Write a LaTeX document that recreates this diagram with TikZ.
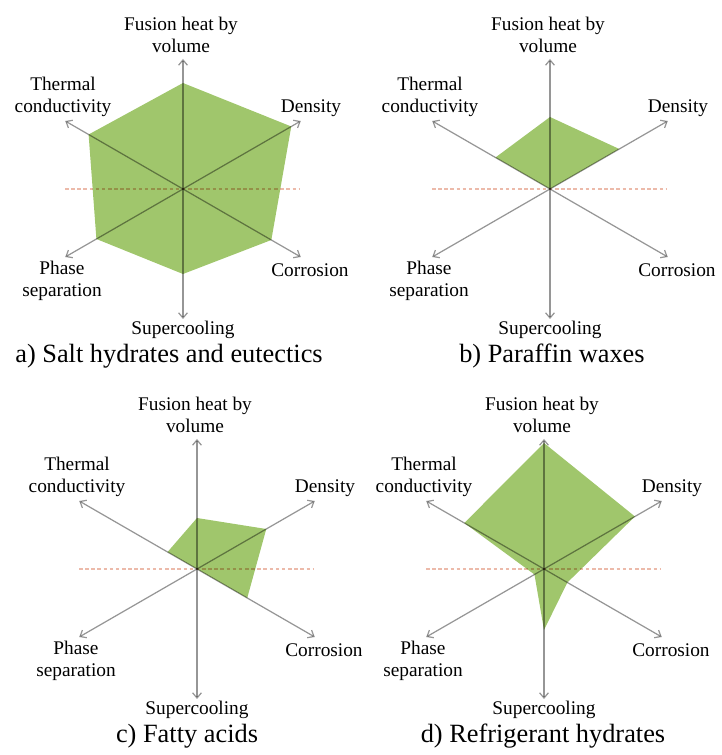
\documentclass[tikz,border=0pt]{standalone}
\usepackage{fontspec}
\newfontfamily\chartfont{Liberation Serif}
\usetikzlibrary{arrows.meta, positioning, calc}
\definecolor{radargreen}{RGB}{160,198,108}
\definecolor{axisgray}{RGB}{150,150,150}
\definecolor{refpink}{RGB}{236,186,170}

\tikzset{
  axisline/.style={axisgray, line width=0.7pt, -{Straight Barb[length=3pt,width=5pt]}},
  refline/.style={refpink, line width=0.6pt, dash pattern=on 2pt off 1.5pt},
  radarfill/.style={fill=radargreen, draw=none},
  lbl/.style={font=\chartfont\fontsize{11}{12.5}\selectfont, align=center, inner sep=0pt},
  capt/.style={font=\chartfont\fontsize{15}{17}\selectfont, inner sep=0pt},
}

\begin{document}
\begin{tikzpicture}[x=0.02cm, y=0.02cm]
  \useasboundingbox (0,0) rectangle (722,755);

  % one radar chart per material group
  \foreach \id/\cx/\cy/\vf/\vd/\vc/\vs/\vp/\vt/\capx/\cap in {
      a/183/566/106/125/102/85/100/109/-14/{a) Salt hydrates and eutectics},
      b/550/566/72/80/0/0/0/63/2/{b) Paraffin waxes},
      c/197/186/51/80/58/0/0/34/-10/{c) Fatty acids},
      d/544/186/126/105/27/61/11/92/-1/{d) Refrigerant hydrates}}
  {
    \begin{scope}[shift={(\cx,\cy)}]
      \coordinate (\id-o) at (0,0);
      \coordinate (\id-fus) at (90:130);
      \coordinate (\id-den) at (30:136);
      \coordinate (\id-cor) at (-30:136);
      \coordinate (\id-sup) at (-90:130);
      \coordinate (\id-pha) at (-150:136);
      \coordinate (\id-the) at (150:136);
      \coordinate (\id-refl) at (-118,0);
      \coordinate (\id-refr) at (116,0);

      \fill[radarfill] (90:\vf) -- (30:\vd) -- (-30:\vc) -- (-90:\vs)
        -- (-150:\vp) -- (150:\vt) -- cycle;

      \begin{scope}[blend mode=multiply]
        \draw[refline] (\id-refl) -- (\id-refr);
        \foreach \e in {fus, den, cor, sup, pha, the}
          \draw[axisline] (\id-o) -- (\id-\e);
      \end{scope}

      \node[lbl] (\id-fusl) at (-2,154) {Fusion heat by\\volume};
      \node[lbl] (\id-thel) at (-120,92) {Thermal\\conductivity};
      \node[lbl] (\id-denl) at (128,81) {Density};
      \node[lbl] (\id-corl) at (127,-81) {Corrosion};
      \node[lbl] (\id-phal) at (-121,-92) {Phase\\separation};
      \node[lbl] (\id-supl) at (0,-141) {Supercooling};
      \node[capt] (\id-cap) at (\capx,-167) {\cap};
    \end{scope}
  }
\end{tikzpicture}
\end{document}
